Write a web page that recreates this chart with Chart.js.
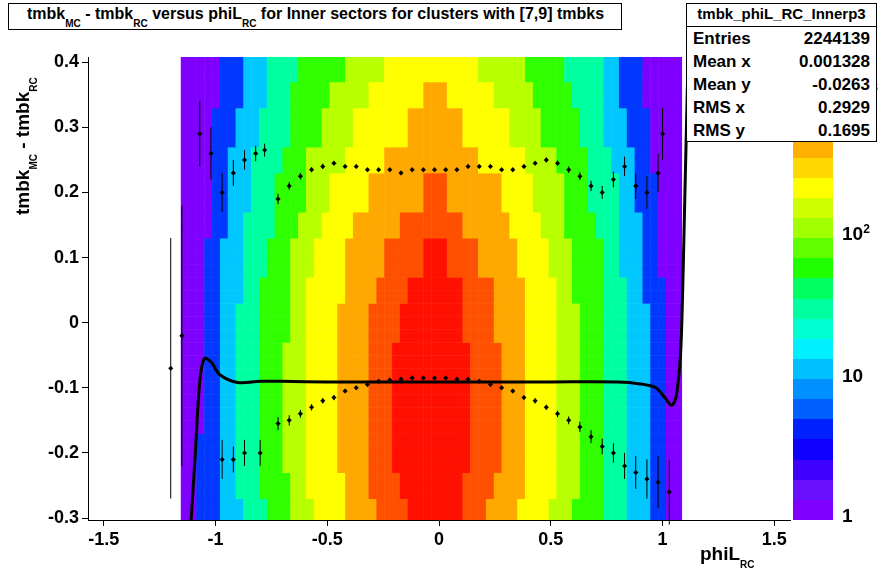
<!DOCTYPE html>
<html><head><meta charset="utf-8">
<script src="https://cdn.jsdelivr.net/npm/chart.js@4"></script>
<style>
body{margin:0;background:#fff;font-family:"Liberation Sans",Arial,sans-serif;}
#wrap{position:relative;width:878px;height:578px;}
.box{position:absolute;background:#fff;border:1px solid #000;}
.lbl{position:absolute;font-weight:bold;font-size:19px;}
sub{font-size:10px;vertical-align:-8px;}
</style></head><body>
<div id="wrap">
<canvas id="c" width="878" height="578"></canvas>
<div class="box" style="left:8px;top:3px;width:614px;height:27px;font-weight:bold;font-size:16px;line-height:20px;padding-left:18px;box-sizing:border-box;white-space:nowrap;overflow:hidden">tmbk<sub>MC</sub> - tmbk<sub>RC</sub> versus phiL<sub>RC</sub> for Inner sectors for clusters with [7,9] tmbks</div>
<div class="lbl" style="left:700px;top:543px">phiL<sub>RC</sub></div>
<div class="lbl" style="left:12px;top:215px;transform:rotate(-90deg);transform-origin:left top;white-space:nowrap">tmbk<sub>MC</sub> - tmbk<sub>RC</sub></div>
<div id="pal" style="position:absolute;left:793px;top:57px;width:40px;height:463px"></div>
<div class="lbl" style="left:842px;top:505px">1</div>
<div class="lbl" style="left:842px;top:365px">10</div>
<div class="lbl" style="left:842px;top:222px">10<sup style="font-size:12px">2</sup></div>
<div class="lbl" style="left:850px;top:80px">10<sup style="font-size:12px">3</sup></div>
<div class="box" id="stats" style="left:686px;top:3px;width:189px;height:137px;font-weight:bold;font-size:17px"></div>
</div>
<script>
// x range and ticks
const xTicks = [-1.5, -1, -0.5, 0, 0.5, 1, 1.5];
const yTicks = [-0.3, -0.2, -0.1, 0, 0.1, 0.2, 0.3, 0.4];

// heatmap colour levels, outer to inner
const levelColors = ['#7f00ff', '#0038ff', '#00c8ff', '#00ffa0', '#30ff00', '#b8ff00', '#ffff00', '#ffa800', '#ff5000', '#ff1000'];
// rows (y centres) and half-widths of each colour band
const rowY = [0.4, 0.35, 0.3, 0.25, 0.2, 0.15, 0.1, 0.05, 0, -0.05, -0.1, -0.15, -0.2, -0.25, -0.3];
const rowWidths = [
  [1.12, 0.95, 0.85, 0.75, 0.6, 0.4, 0.2, 0, 0, 0],
  [1.12, 0.95, 0.85, 0.75, 0.62, 0.45, 0.27, 0.05, 0, 0],
  [1.12, 0.97, 0.88, 0.78, 0.65, 0.5, 0.35, 0.12, 0, 0],
  [1.12, 0.98, 0.9, 0.8, 0.68, 0.55, 0.4, 0.22, 0, 0],
  [1.12, 1.0, 0.92, 0.82, 0.7, 0.58, 0.45, 0.3, 0.05, 0],
  [1.12, 1.0, 0.93, 0.83, 0.72, 0.6, 0.5, 0.35, 0.15, 0],
  [1.12, 1.02, 0.95, 0.85, 0.75, 0.62, 0.52, 0.38, 0.22, 0.05],
  [1.12, 1.03, 0.95, 0.86, 0.76, 0.64, 0.55, 0.4, 0.26, 0.12],
  [1.12, 1.03, 0.96, 0.87, 0.77, 0.65, 0.55, 0.42, 0.28, 0.15],
  [1.12, 1.03, 0.96, 0.87, 0.77, 0.66, 0.56, 0.42, 0.3, 0.18],
  [1.12, 1.03, 0.96, 0.87, 0.77, 0.66, 0.56, 0.42, 0.3, 0.18],
  [1.12, 1.03, 0.96, 0.87, 0.77, 0.66, 0.55, 0.42, 0.3, 0.18],
  [1.12, 1.04, 0.96, 0.87, 0.77, 0.66, 0.55, 0.42, 0.3, 0.17],
  [1.12, 1.04, 0.96, 0.87, 0.76, 0.65, 0.55, 0.4, 0.28, 0.15],
  [1.12, 1.04, 0.96, 0.86, 0.75, 0.64, 0.53, 0.38, 0.25, 0.12]
];

// profile points
const upX = [-1.07,-1.02,-0.97,-0.92,-0.87,-0.82,-0.78,-0.72,-0.67,-0.62,-0.57,-0.52,-0.47,-0.42,-0.37,-0.32,-0.27,-0.22,-0.17,-0.12,-0.07,-0.02,0.03,0.08,0.13,0.18,0.23,0.28,0.33,0.38,0.43,0.48,0.53,0.58,0.63,0.68,0.73,0.78,0.83,0.88,0.93,0.98,1.0];
const upY = [0.29,0.26,0.2,0.23,0.25,0.26,0.265,0.19,0.21,0.225,0.235,0.24,0.245,0.24,0.24,0.235,0.235,0.235,0.23,0.235,0.235,0.235,0.235,0.235,0.24,0.24,0.24,0.235,0.235,0.24,0.245,0.25,0.245,0.235,0.225,0.21,0.2,0.22,0.24,0.21,0.2,0.23,0.29];
const upErr = [0.05,0.04,0.03,0.02,0.015,0.012,0.01,0.008,0.006,0.005,0.004,0.004,0.003,0.003,0.003,0.003,0.003,0.003,0.003,0.003,0.003,0.003,0.003,0.003,0.003,0.003,0.003,0.003,0.003,0.003,0.003,0.004,0.004,0.005,0.006,0.008,0.01,0.012,0.015,0.02,0.025,0.03,0.04];
const loX = [-1.2,-1.15,-0.97,-0.92,-0.87,-0.8,-0.72,-0.67,-0.62,-0.57,-0.52,-0.47,-0.42,-0.37,-0.32,-0.27,-0.22,-0.17,-0.12,-0.07,-0.02,0.03,0.08,0.13,0.18,0.23,0.28,0.33,0.38,0.43,0.48,0.53,0.58,0.63,0.68,0.73,0.78,0.83,0.88,0.93,0.98,1.03];
const loY = [-0.07,-0.02,-0.21,-0.21,-0.2,-0.2,-0.155,-0.15,-0.14,-0.13,-0.12,-0.115,-0.105,-0.1,-0.095,-0.09,-0.088,-0.087,-0.085,-0.085,-0.085,-0.085,-0.087,-0.087,-0.09,-0.095,-0.1,-0.105,-0.115,-0.12,-0.13,-0.14,-0.15,-0.16,-0.175,-0.19,-0.2,-0.22,-0.23,-0.24,-0.245,-0.26];
const loErr = [0.2,0.2,0.03,0.02,0.02,0.02,0.01,0.008,0.006,0.005,0.004,0.004,0.003,0.003,0.003,0.003,0.003,0.003,0.003,0.003,0.003,0.003,0.003,0.003,0.003,0.003,0.003,0.003,0.003,0.004,0.004,0.005,0.006,0.008,0.01,0.012,0.015,0.02,0.025,0.03,0.04,0.05];
// fit curve
const fitX = [-1.11,-1.09,-1.07,-1.05,-1.02,-0.98,-0.9,-0.8,-0.7,-0.5,0,0.5,0.8,0.9,0.97,1.01,1.04,1.06,1.08,1.09,1.1,1.115];
const fitY = [-0.31,-0.2,-0.09,-0.055,-0.06,-0.08,-0.092,-0.09,-0.09,-0.091,-0.091,-0.091,-0.091,-0.094,-0.1,-0.115,-0.127,-0.115,-0.05,0.05,0.2,0.42];

const paletteColors = ['#7f00ff','#6a10ff','#4000ff','#1000ff','#0020ff','#0060ff','#0090ff','#00c0ff','#00f0ff','#00ffd0','#00ffa0','#00ff60','#20ff00','#60ff00','#a0ff00','#d0ff00','#ffff00','#ffd800','#ffb000','#ff8800','#ff6000','#ff3800','#ff1000'];

const stats = [['Entries','2244139'],['Mean x','0.001328'],['Mean y','-0.0263'],['RMS x','0.2929'],['RMS y','0.1695']];

// --- static html bits ---
const st = document.getElementById('stats');
st.innerHTML = '<div style="text-align:center;font-size:15px;border-bottom:1px solid #000;height:22px;line-height:20px">tmbk_phiL_RC_Innerp3</div>' +
  stats.map(([k, v]) => `<div style="display:flex;justify-content:space-between;padding:0 6px;height:23px;line-height:23px"><span>${k}</span><span>${v}</span></div>`).join('');
const pal = document.getElementById('pal');
paletteColors.slice().reverse().forEach(c => {
  const d = document.createElement('div');
  d.style.cssText = `height:${463 / paletteColors.length}px;background:${c}`;
  pal.appendChild(d);
});

const heatmap = {
  id: 'heatmap',
  beforeDatasetsDraw(chart) {
    const { ctx, chartArea, scales: { x, y } } = chart;
    ctx.save();
    ctx.beginPath();
    ctx.rect(chartArea.left, chartArea.top, chartArea.width, chartArea.height);
    ctx.clip();
    const bw = 0.035, bh = 0.02, off = -0.03;
    for (let yc = -0.31; yc < 0.41; yc += bh) {
      // nearest tabulated row
      let r = 0;
      rowY.forEach((v, i) => { if (Math.abs(v - (yc + bh / 2)) < Math.abs(rowY[r] - (yc + bh / 2))) r = i; });
      const y0 = y.getPixelForValue(yc + bh), y1 = y.getPixelForValue(yc);
      for (let xc = -1.155; xc < 1.15; xc += bw) {
        const d = Math.abs(xc + bw / 2 - off);
        let lvl = -1;
        rowWidths[r].forEach((w, i) => { if (d <= w) lvl = i; });
        if (lvl < 0) continue;
        ctx.fillStyle = levelColors[lvl];
        const x0 = x.getPixelForValue(xc), x1 = x.getPixelForValue(xc + bw);
        ctx.fillRect(x0, y0, x1 - x0 + 0.5, y1 - y0 + 0.5);
      }
    }
    ctx.restore();
  },
  afterDatasetsDraw(chart) {
    const { ctx, scales: { x, y } } = chart;
    ctx.save();
    ctx.strokeStyle = '#000';
    ctx.lineWidth = 1;
    [[upX, upY, upErr], [loX, loY, loErr]].forEach(([xs, ys, es]) => {
      xs.forEach((xv, i) => {
        const px = x.getPixelForValue(xv);
        ctx.beginPath();
        ctx.moveTo(px, y.getPixelForValue(ys[i] + es[i]));
        ctx.lineTo(px, y.getPixelForValue(ys[i] - es[i]));
        ctx.stroke();
      });
    });
    ctx.restore();
  }
};

new Chart(document.getElementById('c'), {
  type: 'scatter',
  data: {
    datasets: [
      { data: fitX.map((v, i) => ({ x: v, y: fitY[i] })), showLine: true, borderColor: '#000', borderWidth: 3, pointRadius: 0, tension: 0.3 },
      { data: upX.map((v, i) => ({ x: v, y: upY[i] })), backgroundColor: '#000', pointRadius: 2.5, pointStyle: 'rectRot' },
      { data: loX.map((v, i) => ({ x: v, y: loY[i] })), backgroundColor: '#000', pointRadius: 2.5, pointStyle: 'rectRot' }
    ]
  },
  options: {
    responsive: false, animation: false,
    layout: { padding: { top: 57, right: 88, left: 0, bottom: 0 } },
    plugins: { legend: { display: false }, tooltip: { enabled: false } },
    scales: {
      x: {
        type: 'linear', min: -1.57, max: 1.57,
        afterBuildTicks: s => { s.ticks = xTicks.map(v => ({ value: v })); },
        afterFit: s => { s.height = 58; },
        grid: { drawOnChartArea: false, tickLength: 6, color: '#000' },
        border: { color: '#000', width: 1 },
        ticks: { color: '#000', font: { size: 18, weight: 'bold', family: 'Liberation Sans' }, callback: v => String(v) }
      },
      y: {
        type: 'linear', min: -0.303, max: 0.408,
        afterBuildTicks: s => { s.ticks = yTicks.map(v => ({ value: v })); },
        afterFit: s => { s.width = 88; },
        grid: { drawOnChartArea: false, tickLength: 6, color: '#000' },
        border: { color: '#000', width: 1 },
        ticks: { color: '#000', font: { size: 18, weight: 'bold', family: 'Liberation Sans' }, callback: v => String(Math.round(v * 10) / 10) }
      }
    }
  },
  plugins: [heatmap]
});
</script>
</body></html>
